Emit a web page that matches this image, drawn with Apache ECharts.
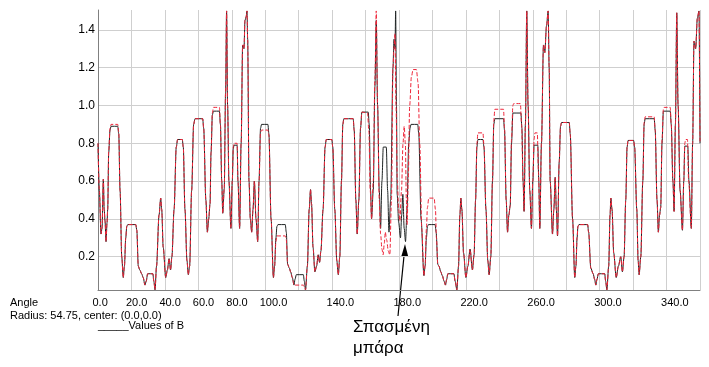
<!DOCTYPE html>
<html>
<head>
<meta charset="utf-8">
<script src="https://cdn.jsdelivr.net/npm/echarts/dist/echarts.min.js"></script>
<style>
html,body{margin:0;padding:0;background:#fff;}
#chart{width:709px;height:367px;}
</style>
</head>
<body>
<div id="chart"></div>
<script>
// ---- Data (angle in degrees, value of B) ----
const blackQ1 = [[0,0.80],[0.8,0.55],[1.8,0.32],[2.4,0.35],[3.2,0.61],[3.7,0.45],[4.2,0.39],[4.8,0.28],[5.4,0.38],[5.8,0.45],[6.4,0.75],[7.2,0.87],[7.8,0.89],[11.8,0.89],[12.4,0.85],[13.2,0.55],[14.2,0.2],[15.1,0.09],[15.8,0.15],[16.6,0.3],[17.2,0.36],[17.8,0.37],[22.6,0.37],[23.2,0.34],[24.1,0.15],[25,0.13],[26.1,0.11],[27,0.09],[28.1,0.05],[28.8,0.07],[29.7,0.11],[32.8,0.11],[33.4,0.07],[34.1,0.025],[35,0.15],[36.5,0.42],[37.5,0.51],[38.1,0.45],[39,0.25],[40.5,0.09],[41.5,0.13],[42.5,0.19],[43.4,0.13],[44.2,0.2],[45.5,0.45],[46.8,0.78],[47.6,0.82],[50.4,0.82],[51,0.78],[52,0.45],[53.2,0.18],[54,0.105],[54.8,0.15],[56,0.55],[57.2,0.9],[58,0.93],[62.6,0.93],[63.2,0.88],[64.5,0.5],[65.4,0.33],[66.2,0.4],[67,0.48],[67.6,0.75],[68.4,0.95],[69,0.97],[72.6,0.97],[73.2,0.9],[74,0.6],[74.6,0.43],[75.5,0.56],[76.3,1.07],[76.9,1.5],[77.5,1.0],[78.3,0.6],[79.5,0.35],[80.3,0.6],[80.9,0.77],[81.3,0.79],[83.2,0.79],[83.7,0.6],[84.7,0.35],[85.6,0.8],[86.5,1.32],[87.3,1.3],[87.9,1.45],[88.6,1.47],[89.1,1.5],[89.5,1.35],[90.3,0.6],[91.1,0.4],[91.9,0.33],[92.7,0.45],[93.5,0.6],[94.5,0.4],[95.5,0.28],[96.3,0.6],[97.2,0.88],[97.8,0.9],[101.6,0.9],[102.2,0.85],[103.5,0.4],[104.9,0.09]];
const blackQ2 = [[105.6,0.15],[106.4,0.3],[107,0.36],[107.6,0.37],[112,0.37],[112.6,0.33],[113.4,0.16],[114.4,0.14],[115.2,0.12],[116.2,0.09],[117.2,0.05],[117.8,0.08],[118.6,0.105],[122.8,0.105],[123.4,0.07],[124.1,0.025],[125.2,0.15],[126.3,0.45],[127.1,0.555],[127.7,0.48],[128.6,0.25],[129.7,0.12],[130.7,0.15],[131.7,0.21],[132.5,0.17],[133.3,0.23],[134.6,0.45],[135.8,0.78],[136.5,0.82],[139.8,0.82],[140.4,0.78],[141.6,0.45],[142.8,0.18],[143.7,0.105],[144.6,0.2],[145.6,0.6],[146.4,0.9],[147,0.93],[152.6,0.93],[153.2,0.87],[154.2,0.5],[155,0.32],[156,0.5],[157,0.88],[157.8,0.965],[161.6,0.965],[162.2,0.9],[163,0.55],[163.6,0.40],[164.6,0.55],[165.6,1.1],[166.4,1.45],[167.2,1.0],[168.2,0.55],[169,0.35],[169.8,0.6],[170.6,0.78],[172.4,0.78],[173.2,0.55],[174,0.33],[175,0.5],[176.4,1.2],[177,1.35],[177.6,1.3],[178,1.5],[178.5,1.0],[178.9,0.53],[179.8,0.38],[180.9,0.30],[181.6,0.42],[182.3,0.53],[183.1,0.35],[183.9,0.28],[184.8,0.45],[185.8,0.8],[186.6,0.88],[187.2,0.90],[191.2,0.90],[191.8,0.85],[193.2,0.4],[194.9,0.10],[195.6,0.15],[196.4,0.3],[197,0.36],[197.6,0.37],[201.6,0.37],[202.2,0.33],[203.2,0.16],[203.9,0.15],[205,0.12],[205.9,0.1],[207,0.07],[207.8,0.05]];
const blackQ3 = [[208.5,0.08],[209.2,0.11],[212.8,0.11],[213.6,0.07],[214.6,0.025],[215.6,0.15],[216.4,0.42],[217,0.51],[217.6,0.45],[218.6,0.22],[220,0.09],[221.2,0.15],[222.5,0.24],[223.9,0.13],[224.9,0.21],[225.8,0.5],[226.6,0.78],[227.2,0.82],[230.2,0.82],[230.8,0.78],[232,0.45],[233.1,0.18],[233.9,0.105],[234.9,0.2],[235.9,0.6],[236.7,0.9],[237.3,0.93],[242.5,0.93],[243.1,0.87],[244.1,0.5],[244.9,0.33],[245.7,0.42],[246.5,0.47],[247.3,0.8],[248.1,0.96],[252.9,0.96],[253.5,0.88],[254.2,0.6],[254.8,0.44],[255.6,0.9],[256.4,1.5],[257.2,1.0],[258.2,0.55],[259.2,0.35],[260,0.6],[260.8,0.79],[263,0.79],[263.6,0.6],[264.2,0.35],[265.2,0.8],[266.4,1.32],[267.2,1.28],[268.2,1.42],[269.2,1.5],[269.8,1.2],[270.4,0.6],[271.8,0.32],[272.6,0.45],[273.4,0.62],[274.1,0.45],[274.8,0.31],[275.8,0.7],[276.6,0.89],[277.2,0.91],[281.8,0.91],[282.4,0.85],[283.8,0.4],[285.1,0.09],[285.8,0.15],[286.5,0.3],[287,0.36],[287.6,0.37],[292.8,0.37],[293.4,0.33],[294.7,0.14],[296.1,0.11],[297,0.08],[297.7,0.05],[298.4,0.08],[299.2,0.11],[303,0.11],[303.6,0.07],[304.3,0.025],[305.4,0.15],[306.2,0.42],[306.7,0.51],[307.4,0.45],[308.4,0.22],[309.9,0.09]];
const blackQ4 = [[311.2,0.15],[312.6,0.20],[313.6,0.12],[314.6,0.2],[315.6,0.5],[316.4,0.78],[317,0.815],[320.3,0.815],[320.9,0.78],[322.2,0.45],[323,0.18],[323.6,0.105],[324.6,0.2],[325.8,0.6],[326.6,0.9],[327.2,0.93],[332.6,0.93],[333.2,0.87],[334.3,0.5],[335.1,0.33],[335.8,0.42],[336.5,0.46],[337.3,0.8],[338.1,0.97],[342.2,0.97],[342.8,0.9],[343.8,0.6],[344.5,0.44],[345.3,0.9],[346.1,1.49],[346.9,1.0],[348.1,0.55],[349.5,0.34],[350.3,0.6],[350.9,0.785],[352.7,0.785],[353.4,0.6],[354.8,0.35],[355.6,0.8],[356.4,1.34],[357.4,1.3],[358.4,1.46],[359.4,1.5],[360,0.8]];

const redQ1 = [[0,0.80],[0.8,0.55],[1.8,0.32],[2.4,0.35],[3.2,0.61],[3.7,0.45],[4.2,0.39],[4.8,0.28],[5.4,0.38],[5.8,0.45],[6.4,0.76],[7.2,0.88],[7.8,0.90],[11.8,0.90],[12.4,0.86],[13.2,0.55],[14.2,0.2],[15.1,0.09],[15.8,0.15],[16.6,0.3],[17.2,0.36],[17.8,0.37],[22.6,0.37],[23.2,0.34],[24.1,0.15],[25,0.13],[26.1,0.11],[27,0.09],[28.1,0.05],[28.8,0.07],[29.7,0.11],[32.8,0.11],[33.4,0.07],[34.1,0.025],[35,0.15],[36.5,0.42],[37.5,0.51],[38.1,0.45],[39,0.25],[40.5,0.09],[41.5,0.13],[42.5,0.19],[43.4,0.13],[44.2,0.2],[45.5,0.45],[46.8,0.78],[47.6,0.82],[50.4,0.82],[51,0.78],[52,0.45],[53.2,0.18],[54,0.105],[54.8,0.15],[56,0.55],[57.2,0.9],[58,0.93],[62.6,0.93],[63.2,0.88],[64.5,0.5],[65.4,0.33],[66.2,0.4],[67,0.48],[67.6,0.75],[68.4,0.96],[69,0.99],[72.6,0.99],[73.2,0.9],[74,0.6],[74.6,0.43],[75.5,0.56],[76.3,1.07],[76.9,1.5],[77.5,1.0],[78.3,0.6],[79.5,0.35],[80.3,0.6],[80.9,0.78],[81.3,0.80],[83.2,0.80],[83.7,0.6],[84.7,0.35],[85.6,0.8],[86.5,1.32],[87.3,1.3],[87.9,1.45],[88.6,1.47],[89.1,1.5],[89.5,1.35],[90.3,0.6],[91.1,0.4],[91.9,0.33],[92.7,0.45],[93.5,0.6],[94.5,0.4],[95.5,0.28],[96.3,0.6],[97.2,0.86],[97.8,0.87],[101.6,0.87],[102.2,0.84],[103.5,0.4],[104.9,0.09]];
const redQ2 = [[105.6,0.15],[106.4,0.28],[107,0.31],[112,0.31],[112.6,0.29],[113.4,0.16],[114.4,0.14],[115.2,0.12],[116.2,0.09],[117.2,0.05],[122.8,0.05],[124.1,0.025],[125.2,0.15],[126.3,0.45],[127.1,0.555],[127.7,0.48],[128.6,0.25],[129.7,0.12],[130.7,0.15],[131.7,0.21],[132.5,0.17],[133.3,0.23],[134.6,0.45],[135.8,0.78],[136.5,0.82],[139.8,0.82],[140.4,0.78],[141.6,0.45],[142.8,0.18],[143.7,0.105],[144.6,0.2],[145.6,0.6],[146.4,0.9],[147,0.93],[152.6,0.93],[153.2,0.87],[154.2,0.5],[155,0.32],[156,0.5],[157,0.88],[157.8,0.965],[161.2,0.96],[162,0.86],[162.8,0.55],[163.6,0.40],[164.6,0.6],[165.6,1.15],[166.4,1.5],[167.2,1.0],[168.2,0.5],[169,0.32],[169.8,0.24],[170.5,0.21],[171.2,0.27],[171.8,0.33],[172.6,0.29],[173.6,0.23],[174.5,0.21],[175.5,0.5],[176.4,1.2],[177,1.3],[177.6,1.38],[178.2,1.0],[179,0.6],[179.8,0.45],[180.5,0.39],[181.5,0.55],[182.4,0.8],[183.1,0.89],[183.8,0.8],[184.4,0.5],[184.9,0.37],[185.5,0.6],[186.4,1.0],[187.4,1.15],[188.4,1.19],[190.4,1.19],[191.4,1.12],[192.4,0.8],[193.6,0.35],[194.9,0.10],[195.6,0.15],[196.4,0.35],[197,0.46],[197.8,0.51],[201,0.51],[201.8,0.45],[202.4,0.3],[203.2,0.16],[203.9,0.15],[205,0.12],[205.9,0.1],[207,0.07],[207.8,0.05]];
const redQ3 = [[208.5,0.08],[209.2,0.11],[212.8,0.11],[213.6,0.07],[214.6,0.025],[215.6,0.15],[216.4,0.42],[217,0.51],[217.6,0.45],[218.6,0.22],[220,0.09],[221.2,0.15],[222.5,0.24],[223.9,0.13],[224.9,0.21],[225.8,0.5],[226.6,0.8],[227.2,0.855],[230.2,0.855],[230.8,0.79],[232,0.45],[233.1,0.18],[233.9,0.105],[234.9,0.2],[235.9,0.6],[236.7,0.92],[237.3,0.98],[242.5,0.98],[243.1,0.88],[244.1,0.5],[244.9,0.33],[245.7,0.42],[246.5,0.47],[247.3,0.82],[248.1,1.0],[248.6,1.01],[252.6,1.01],[253.3,0.9],[254.2,0.6],[254.8,0.44],[255.6,0.9],[256.4,1.5],[257.2,1.0],[258.2,0.55],[259.2,0.35],[260,0.6],[260.8,0.82],[261.3,0.855],[262.7,0.855],[263.4,0.65],[264.2,0.35],[265.2,0.8],[266.4,1.32],[267.2,1.28],[268.2,1.42],[269.2,1.5],[269.8,1.2],[270.4,0.6],[271.8,0.32],[272.6,0.45],[273.4,0.62],[274.1,0.45],[274.8,0.31],[275.8,0.7],[276.6,0.89],[277.2,0.91],[281.8,0.91],[282.4,0.85],[283.8,0.4],[285.1,0.09],[285.8,0.15],[286.5,0.3],[287,0.36],[287.6,0.37],[292.8,0.37],[293.4,0.33],[294.7,0.14],[296.1,0.11],[297,0.08],[297.7,0.05],[298.4,0.08],[299.2,0.11],[303,0.11],[303.6,0.07],[304.3,0.025],[305.4,0.15],[306.2,0.42],[306.7,0.51],[307.4,0.45],[308.4,0.22],[309.9,0.09]];
const redQ4 = [[311.2,0.15],[312.6,0.20],[313.6,0.12],[314.6,0.2],[315.6,0.5],[316.4,0.78],[317,0.815],[320.3,0.815],[320.9,0.78],[322.2,0.45],[323,0.18],[323.6,0.105],[324.6,0.2],[325.8,0.6],[326.6,0.91],[327.2,0.94],[332.6,0.94],[333.2,0.87],[334.3,0.5],[335.1,0.33],[335.8,0.42],[336.5,0.46],[337.3,0.82],[338.1,0.98],[338.6,0.99],[342.2,0.99],[342.8,0.9],[343.8,0.6],[344.5,0.44],[345.3,0.9],[346.1,1.49],[346.9,1.0],[348.1,0.55],[349.5,0.34],[350.3,0.6],[350.9,0.8],[351.4,0.82],[352.5,0.82],[353.2,0.6],[354.8,0.35],[355.6,0.8],[356.4,1.34],[357.4,1.3],[358.4,1.46],[359.4,1.5],[360,0.8]];

const xLabelValues = [0, 20, 40, 60, 80, 100, 140, 180, 220, 260, 300, 340];
const yLabelValues = [0.2, 0.4, 0.6, 0.8, 1.0, 1.2, 1.4];
const footerTexts = ['Angle', 'Radius: 54.75, center: (0.0,0.0)', '_____Values of B'];
const noteLines = ['Σπασμένη', 'μπάρα'];

const FONT = '"Liberation Sans", Arial, sans-serif';
const blackData = blackQ1.concat(blackQ2, blackQ3, blackQ4);
const redData = redQ1.concat(redQ2, redQ3, redQ4);

const chart = echarts.init(document.getElementById('chart'), null, {renderer: 'canvas'});
chart.setOption({
  animation: false,
  backgroundColor: '#ffffff',
  grid: [
    {left: 98, right: 9, top: 10, bottom: 77, containLabel: false},
    {left: 98, right: 9, top: 10, bottom: 72.5, containLabel: false}
  ],
  xAxis: [
    {
      type: 'value', gridIndex: 0, min: 0, max: 360, interval: 20,
      axisLine: {show: true, lineStyle: {color: '#808080', width: 1}},
      axisTick: {show: false},
      splitLine: {show: true, lineStyle: {color: '#cfcfcf', width: 1}},
      axisLabel: {
        margin: 7, color: '#000', fontFamily: FONT, fontSize: 11, align: 'center',
        formatter: v => xLabelValues.some(x => Math.abs(x - v) < 1e-6) ? '{a|' + v.toFixed(1) + '}' : '',
        rich: {a: {width: 11, align: 'left', fontFamily: FONT, fontSize: 11, color: '#000'}}
      }
    },
    {type: 'value', gridIndex: 1, min: 0, max: 360, show: false}
  ],
  yAxis: [
    {
      type: 'value', gridIndex: 0, min: 0.024, max: 1.505,
      axisLine: {show: true, lineStyle: {color: '#808080', width: 1}},
      axisTick: {show: false}, axisLabel: {show: false}, splitLine: {show: false}
    },
    {
      type: 'value', gridIndex: 1, min: 0, max: 1.505, interval: 0.2,
      axisLine: {show: false}, axisTick: {show: false},
      splitLine: {show: true, showMinLine: false, showMaxLine: false, lineStyle: {color: '#cfcfcf', width: 1}},
      axisLabel: {
        margin: 3, color: '#000', fontFamily: FONT, fontSize: 12, padding: [4, 0, 0, 0],
        showMinLabel: false, showMaxLabel: false,
        formatter: v => yLabelValues.some(y => Math.abs(y - v) < 1e-6) ? v.toFixed(1) : ''
      }
    }
  ],
  series: [
    {
      type: 'line', xAxisIndex: 0, yAxisIndex: 0, data: blackData, showSymbol: false,
      smooth: 0.3, smoothMonotone: 'x',
      lineStyle: {color: '#1f2424', width: 1}, z: 2
    },
    {
      type: 'line', xAxisIndex: 0, yAxisIndex: 0, data: redData, showSymbol: false,
      smooth: 0.3, smoothMonotone: 'x',
      lineStyle: {color: '#ee2438', width: 1, type: [4, 2]}, z: 3
    }
  ],
  graphic: [
    {type: 'text', left: 10, top: 297, style: {text: footerTexts[0], font: '11px ' + FONT, fill: '#000'}},
    {type: 'text', left: 10, top: 310, style: {text: footerTexts[1], font: '11px ' + FONT, fill: '#000'}},
    {type: 'text', left: 98, top: 320, style: {text: footerTexts[2], font: '11px ' + FONT, fill: '#000'}},
    {type: 'line', shape: {x1: 398, y1: 316, x2: 404.4, y2: 252}, style: {stroke: '#000', lineWidth: 1.2}},
    {type: 'polygon', shape: {points: [[405, 244], [401.4, 256], [408.2, 256.6]]}, style: {fill: '#000'}},
    {type: 'text', left: 353, top: 319, style: {text: noteLines[0], font: '17px ' + FONT, fill: '#000'}},
    {type: 'text', left: 353, top: 340, style: {text: noteLines[1], font: '17px ' + FONT, fill: '#000'}}
  ]
});
</script>
</body>
</html>
